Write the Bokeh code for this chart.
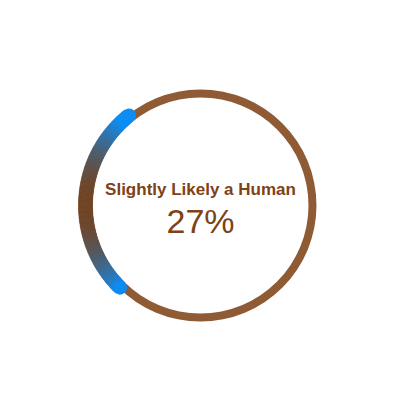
import numpy as np
from bokeh.plotting import figure
from bokeh.models import ColumnDataSource
from bokeh.core.properties import value
from bokeh.embed import file_html
from bokeh.resources import INLINE

# ---- data ----
labels = ["Slightly Likely a Human"]
percents = [27]

# ---- styling ----
ring_color = "#8F5B35"
text_color = "#7E4216"
grad_left = np.array([0x7A, 0x3E, 0x12])   # brown
grad_right = np.array([0x0B, 0x8D, 0xF5])  # blue

cx, cy = 0.0, -5.0
r_ring = 112.0
thin_w = 8.0
r_arc = 115.0
thick_w = 14.0
arc_center_deg = 177.0

p = figure(width=400, height=400, x_range=(-200, 200), y_range=(-200, 200),
           output_backend="svg", toolbar_location=None, min_border=0)
p.axis.visible = False
p.grid.visible = False
p.outline_line_color = None
p.background_fill_color = "white"

# thin background ring
p.annulus(x=[cx], y=[cy], inner_radius=r_ring - thin_w / 2, outer_radius=r_ring + thin_w / 2,
          fill_color=ring_color, line_color=None)

# progress arc
pct = percents[0]
span = pct / 100.0 * 2 * np.pi
ac = np.deg2rad(arc_center_deg)
a0 = ac - span / 2
a1 = ac + span / 2
n = 160
edges = np.linspace(a0, a1, n + 1)
mids = (edges[:-1] + edges[1:]) / 2
x_min = -118.0
x_max = -80.0


def grad(x):
    t = np.clip((x - x_min) / (x_max - x_min), 0, 1)
    c = grad_left + (grad_right - grad_left) * t
    return "#%02x%02x%02x" % tuple(int(round(v)) for v in c)


seg_colors = [grad(cx + r_arc * np.cos(m)) for m in mids]
src = ColumnDataSource(dict(x=[cx] * n, y=[cy] * n, start=edges[:-1], end=edges[1:] + 0.004,
                            color=seg_colors))
p.annular_wedge(x="x", y="y", inner_radius=r_arc - thick_w / 2, outer_radius=r_arc + thick_w / 2,
                start_angle="start", end_angle="end", fill_color="color", line_color="color",
                line_width=0.5, source=src)

# round caps
cap_x = [cx + r_arc * np.cos(a0), cx + r_arc * np.cos(a1)]
cap_y = [cy + r_arc * np.sin(a0), cy + r_arc * np.sin(a1)]
cap_c = [grad(x) for x in cap_x]
p.circle(x=cap_x, y=cap_y, radius=thick_w / 2, fill_color=cap_c, line_color=None)

# texts
p.text(x=[0], y=[11], text=labels, text_align="center", text_baseline="middle",
       text_font=value("Liberation Sans"), text_font_style="bold", text_font_size="17px",
       text_color=text_color)
p.text(x=[0], y=[-20], text=["%d%%" % pct], text_align="center", text_baseline="middle",
       text_font=value("Liberation Sans"), text_font_size="34px", text_color=text_color)

open("out.html", "w").write(file_html(p, INLINE))
